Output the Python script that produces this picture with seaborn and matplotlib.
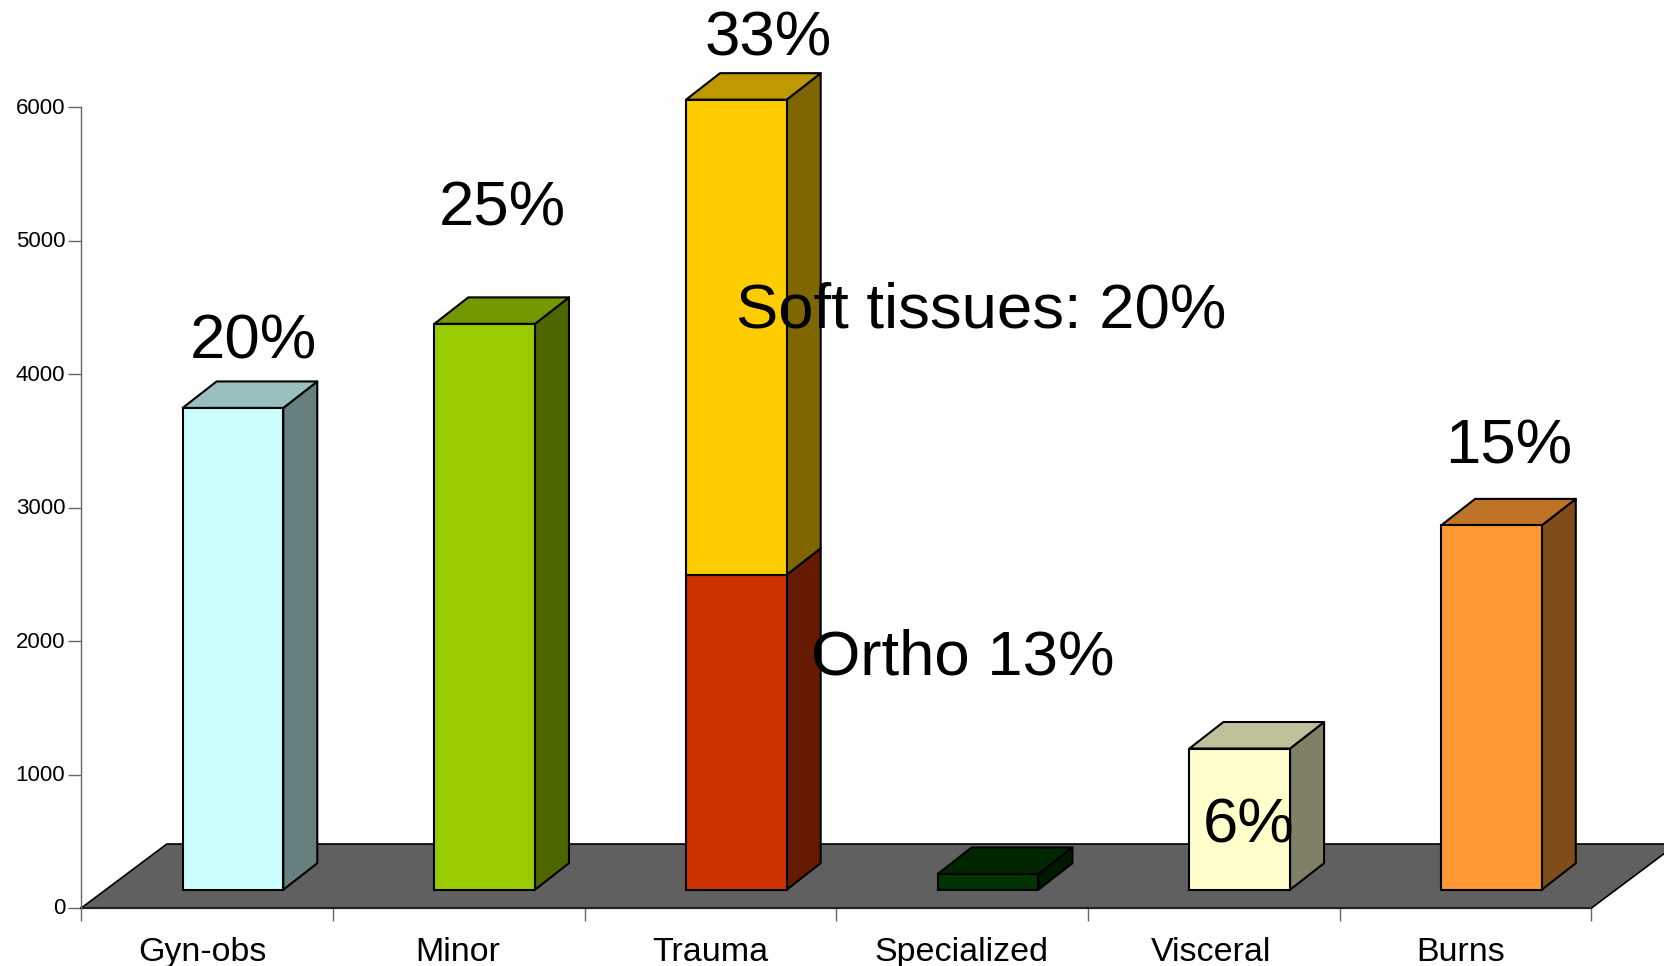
import matplotlib
matplotlib.use("Agg")
import matplotlib.pyplot as plt
import matplotlib.colors as mcolors
from matplotlib.transforms import ScaledTranslation
import numpy as np
import seaborn as sns

categories = ["Gyn-obs", "Minor", "Trauma", "Specialized", "Visceral", "Burns"]
base_values = [3610, 4240, 2360, 118, 1058, 2730]
base_colors = ["#CCFFFF", "#99CC00", "#CC3300", "#003300", "#FFFFCC", "#FF9933"]
stack_category = ["Trauma"]
stack_values = [3560]
stack_colors = ["#FFCC00"]
y_ticks = [0, 1000, 2000, 3000, 4000, 5000, 6000]
big_labels = ["20%", "25%", "33%", "Soft tissues: 20%", "Ortho 13%", "6%", "15%"]

W, H = 1665, 966
sns.set_theme(style="white")
plt.rcParams["font.family"] = ["Liberation Sans", "DejaVu Sans"]

fig = plt.figure(figsize=(W / 100, H / 100), dpi=100, facecolor="white")
L, R, B, T = 81.3, 1591.5, 908.0, 107.3
ax = fig.add_axes([L / W, 1 - B / H, (R - L) / W, (B - T) / H])

# 3D projection settings, in pixels
cat_px = (R - L) / 6
val_px = (B - T) / 6000
bar_off = 25.8 / cat_px
floor_h = 18.3 / val_px
depth_x = 34 / cat_px
depth_y = 26.5 / val_px
floor_dx = 85.5 / cat_px
floor_dy = 64.0 / val_px

sns.barplot(x=categories, y=base_values, hue=categories, order=categories,
            hue_order=categories, palette=base_colors, legend=False,
            width=0.4, dodge=False, saturation=1, errorbar=None, ax=ax)
n_base = len(ax.patches)
sns.barplot(x=stack_category, y=stack_values, hue=stack_category, order=categories,
            palette=stack_colors, legend=False, width=0.4, dodge=False,
            saturation=1, errorbar=None, ax=ax)

ax.set_xlim(-0.5, 5.5)
ax.set_ylim(0, 6000)


def shade(color, factor):
    return tuple(c * factor for c in mcolors.to_rgb(color))


EDGE = dict(edgecolor="black", linewidth=1.5, clip_on=False, joinstyle="round")
bars = list(ax.patches)
for i, p in enumerate(bars):
    x0, w, h = p.get_x() + bar_off, p.get_width(), p.get_height()
    cat = int(round(p.get_x() + w / 2))
    y0 = floor_h if i < n_base else floor_h + base_values[cat]
    p.set_x(x0)
    p.set_y(y0)
    p.set_edgecolor("black")
    p.set_linewidth(1.5)
    p.set_clip_on(False)
    col = p.get_facecolor()
    z = 4 + (i >= n_base)
    p.set_zorder(z + 0.5)
    x1, y1 = x0 + w, y0 + h
    # right side
    ax.fill([x1, x1 + depth_x, x1 + depth_x, x1],
            [y0, y0 + depth_y, y1 + depth_y, y1],
            facecolor=shade(col, 0.5), zorder=z, **EDGE)
    # top
    ax.fill([x0, x0 + depth_x, x1 + depth_x, x1],
            [y1, y1 + depth_y, y1 + depth_y, y1],
            facecolor=shade(col, 0.75), zorder=z, **EDGE)

# floor
ax.fill([-0.5, -0.5 + floor_dx, 5.5 + floor_dx, 5.5],
        [0, floor_dy, floor_dy, 0],
        facecolor="#606060", edgecolor="black", linewidth=1.2, clip_on=False, zorder=1)

# axes
for s in ["top", "right"]:
    ax.spines[s].set_visible(False)
ax.spines["left"].set_color("#666666")
ax.spines["left"].set_linewidth(1.0)
ax.spines["bottom"].set_color("#222222")
ax.spines["bottom"].set_linewidth(1.6)
ax.spines["bottom"].set_zorder(2)
ax.set_facecolor("none")

ax.set_yticks(y_ticks)
ax.set_yticklabels([str(v) for v in y_ticks], fontsize=16, color="black")
ax.set_xticks(np.arange(-0.5, 6.0, 1.0))
ax.set_xticklabels([])
ax.set_xticks(np.arange(len(categories)), minor=True)
ax.set_xticklabels(categories, minor=True, fontsize=24.5, color="black")
ax.tick_params(axis="y", which="major", length=9.1, width=1.0, color="#666666",
               left=True, pad=2.5)
ax.tick_params(axis="x", which="major", length=9.1, width=1.0, color="#666666",
               bottom=True)
ax.tick_params(axis="x", which="minor", length=0, pad=21)
ax.set_xlabel("")
ax.set_ylabel("")

# small nudges of tick labels, in pixels
x_nudges = [-4.5, -1, 0, -1, -2.5, -5]
for lab, dx in zip(ax.get_xticklabels(minor=True), x_nudges):
    lab.set_transform(lab.get_transform() + ScaledTranslation(dx / 100, 0, fig.dpi_scale_trans))
for lab in ax.get_yticklabels():
    lab.set_transform(lab.get_transform() + ScaledTranslation(0, 1.6 / 100, fig.dpi_scale_trans))

# big annotation labels, positioned in figure fractions
label_pos = [(253, 342), (502, 209), (768, 39), (981, 311), (963, 658), (1249, 826), (1509, 447)]
for txt, (px, py) in zip(big_labels, label_pos):
    fig.text(px / W, 1 - py / H, txt, fontsize=45.7, color="black",
             ha="center", va="center", zorder=10)

fig.savefig("out.png", dpi=100)
